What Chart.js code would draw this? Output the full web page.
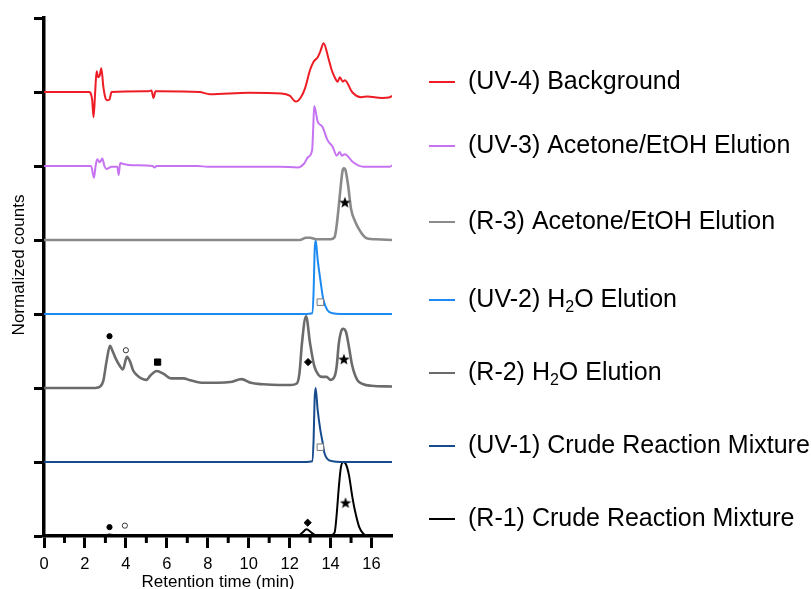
<!DOCTYPE html>
<html>
<head>
<meta charset="utf-8">
<script src="https://cdn.jsdelivr.net/npm/chart.js@4.4.1/dist/chart.umd.min.js"></script>
<style>
  html, body { margin: 0; padding: 0; background: #fff; }
</style>
</head>
<body>
<canvas id="myChart" width="811" height="589"></canvas>
<script>
// series, top to bottom in the stack
var nomesSeries = ['(UV-4) Background', '(UV-3) Acetone/EtOH Elution', '(R-3) Acetone/EtOH Elution',
    '(UV-2) H₂O Elution', '(R-2) H₂O Elution', '(UV-1) Crude Reaction Mixture', '(R-1) Crude Reaction Mixture'];
var coresSeries = ['#ee1c25', '#c673f2', '#8a8a8a', '#1c8af2', '#6b6b6b', '#164b8e', '#000000'];
var deslocamentos = [6, 5, 4, 3, 2, 1, 0];

// retention time (min) / normalized signal for each trace
var tempoUV4 = [0, 2.2, 2.35, 2.42, 2.5, 2.57, 2.65, 2.72, 2.8, 2.9, 3.0, 3.07, 3.2, 3.3, 5.1, 5.25, 5.35, 5.45, 5.6, 7.6,
    8.1, 10.0, 11.6, 12.0, 12.3, 12.55, 12.75, 13.0, 13.17, 13.37, 13.5, 13.66, 13.9, 14.05, 14.2, 14.35, 14.45, 14.6, 14.7, 15.05,
    15.5, 15.8, 16.5, 16.9, 17];
var sinalUV4 = [0, 0, -0.1, -0.34, 0.0, 0.28, 0.2, 0.22, 0.32, 0.07, -0.08, -0.11, -0.1, 0.0, 0.01, 0.02, -0.08, 0.01, 0.01, 0,
    -0.03, -0.01, -0.02, -0.05, -0.13, -0.07, 0.05, 0.3, 0.41, 0.47, 0.55, 0.66, 0.45, 0.3, 0.2, 0.14, 0.2, 0.14, 0.16, 0.0,
    -0.07, -0.06, -0.08, -0.07, -0.05];

var tempoUV3 = [0, 2.3, 2.44, 2.52, 2.6, 2.72, 2.85, 2.95, 3.05, 3.3, 3.58, 3.65, 3.72, 3.85, 4.3, 5.3, 5.4, 5.5, 7.5, 8.0,
    11.5, 12.4, 12.7, 12.9, 13.1, 13.15, 13.2, 13.37, 13.6, 13.85, 14.1, 14.3, 14.45, 14.55, 14.7, 15.1, 15.6, 16.9, 17];
var sinalUV3 = [0, 0, -0.16, 0.0, 0.09, 0.05, 0.1, 0.0, -0.04, -0.01, -0.01, -0.12, 0.04, 0.03, 0.01, 0, -0.02, 0, 0, -0.01,
    -0.01, -0.02, 0.03, 0.12, 0.22, 0.5, 0.81, 0.6, 0.53, 0.35, 0.26, 0.14, 0.19, 0.14, 0.16, 0.05, -0.01, -0.01, 0.01];

var tempoR3 = [0, 12.5, 12.8, 13.0, 13.3, 14.0, 14.2, 14.32, 14.45, 14.58, 14.65, 14.72, 14.85, 15.0, 15.2, 15.4, 15.6, 15.8, 16.2, 17];
var sinalR3 = [0, 0, 0.03, 0.03, 0.01, 0.01, 0.04, 0.25, 0.6, 0.93, 0.97, 0.95, 0.75, 0.42, 0.25, 0.14, 0.06, 0.02, 0.01, 0];

var tempoUV2 = [0, 12.8, 13.1, 13.17, 13.22, 13.27, 13.37, 13.5, 13.65, 13.85, 14.1, 14.5, 17];
var sinalUV2 = [0, 0, 0.01, 0.3, 0.85, 1.0, 0.73, 0.46, 0.19, 0.05, 0.01, 0, 0];

var tempoR2 = [0, 2.5, 2.75, 2.9, 3.05, 3.22, 3.35, 3.5, 3.7, 3.85, 4.05, 4.2, 4.35, 4.55, 4.75, 5.0, 5.2, 5.5, 5.85, 6.2,
    6.8, 7.2, 7.8, 8.5, 9.1, 9.65, 10.1, 10.7, 11.5, 12.05, 12.35, 12.48, 12.6, 12.8, 13.0, 13.2, 13.4, 13.6, 13.8, 14.0,
    14.2, 14.3, 14.4, 14.5, 14.6, 14.75, 14.9, 15.05, 15.3, 15.6, 16.0, 17];
var sinalR2 = [0, 0, 0.02, 0.1, 0.35, 0.57, 0.5, 0.4, 0.3, 0.25, 0.42, 0.36, 0.24, 0.17, 0.13, 0.11, 0.17, 0.23, 0.19, 0.13,
    0.13, 0.1, 0.07, 0.07, 0.08, 0.12, 0.07, 0.05, 0.04, 0.04, 0.06, 0.2, 0.6, 0.97, 0.6, 0.3, 0.18, 0.15, 0.15, 0.11,
    0.16, 0.3, 0.6, 0.75, 0.8, 0.76, 0.55, 0.31, 0.11, 0.05, 0.03, 0.02];

var tempoUV1 = [0, 12.8, 13.1, 13.17, 13.22, 13.27, 13.37, 13.5, 13.6, 13.7, 13.85, 14.1, 14.5, 17];
var sinalUV1 = [0, 0, 0.01, 0.3, 0.85, 1.0, 0.7, 0.43, 0.28, 0.12, 0.04, 0.01, 0, 0];

var tempoR1 = [0, 2.9, 3.2, 3.5, 3.9, 4.3, 5.0, 12.4, 12.6, 12.83, 13.05, 13.3, 14.0, 14.2, 14.3, 14.4, 14.5, 14.62, 14.75, 14.9,
    15.05, 15.2, 15.4, 15.6, 15.8, 17];
var sinalR1 = [0, 0, 0.02, 0.005, 0.015, 0, 0, 0, 0.04, 0.09, 0.05, 0.01, 0.01, 0.05, 0.3, 0.65, 0.92, 1.0, 0.97, 0.82,
    0.55, 0.33, 0.12, 0.03, 0, 0];

var tempos = [tempoUV4, tempoUV3, tempoR3, tempoUV2, tempoR2, tempoUV1, tempoR1];
var sinais = [sinalUV4, sinalUV3, sinalR3, sinalUV2, sinalR2, sinalUV1, sinalR1];

// peak markers (x = time, y = position on the stacked axis)
var circuloCheioX = [3.2, 3.2];
var circuloCheioY = [0.12, 2.7];
var circuloVazioX = [3.95, 4.0];
var circuloVazioY = [0.14, 2.51];
var quadradoCheioX = [5.55];
var quadradoCheioY = [2.35];
var quadradoVazioX = [13.5, 13.5];
var quadradoVazioY = [1.2, 3.16];
var losangoX = [12.88, 12.9];
var losangoY = [0.18, 2.35];
var estrelaX = [14.73, 14.65, 14.7];
var estrelaY = [0.45, 2.39, 4.51];

var ticksX = [0, 2, 4, 6, 8, 10, 12, 14, 16];

function juntarPontos(xs, ys, desloc) {
    var pontos = [];
    for (var i = 0; i < xs.length; i++) {
        pontos.push({ x: xs[i], y: ys[i] + desloc });
    }
    return pontos;
}

// filled five-point star used as a point style
function criarEstrela(tamanho) {
    var c = document.createElement('canvas');
    c.width = tamanho;
    c.height = tamanho;
    var g = c.getContext('2d');
    var r = tamanho / 2, ri = r * 0.42;
    g.beginPath();
    for (var k = 0; k < 10; k++) {
        var ang = -Math.PI / 2 + k * Math.PI / 5;
        var rr = k % 2 === 0 ? r : ri;
        g.lineTo(r + rr * Math.cos(ang), r + 0.5 + rr * Math.sin(ang));
    }
    g.closePath();
    g.fillStyle = '#000';
    g.fill();
    return c;
}

var datasets = [];
for (var i = 0; i < nomesSeries.length; i++) {
    var cinza = nomesSeries[i].indexOf('(R-') === 0 && i !== 6;
    datasets.push({
        label: nomesSeries[i],
        data: juntarPontos(tempos[i], sinais[i], deslocamentos[i]),
        borderColor: coresSeries[i],
        borderWidth: cinza ? 2.6 : 2,
        pointRadius: 0,
        fill: false,
        cubicInterpolationMode: 'monotone',
        order: 2
    });
}

function marcadores(xs, ys, estilo, raio, cheio, corBorda) {
    return {
        type: 'scatter',
        data: juntarPontos(xs, ys, 0),
        pointStyle: estilo,
        pointRadius: raio,
        pointBackgroundColor: cheio ? '#000' : '#fff',
        pointBorderColor: corBorda,
        pointBorderWidth: 1,
        showLine: false,
        order: 0
    };
}

datasets.push(marcadores(circuloCheioX, circuloCheioY, 'circle', 2.6, true, '#000'));
datasets.push(marcadores(circuloVazioX, circuloVazioY, 'circle', 2.6, false, '#333'));
datasets.push(marcadores(quadradoCheioX, quadradoCheioY, 'rect', 4.4, true, '#000'));
datasets.push(marcadores(quadradoVazioX, quadradoVazioY, 'rect', 4.6, false, '#777'));
datasets.push(marcadores(losangoX, losangoY, 'rectRot', 3.6, true, '#000'));
datasets.push(marcadores(estrelaX, estrelaY, criarEstrela(12), 6, true, '#000'));

var fonte = '"Liberation Sans", Arial, sans-serif';

// legend, axis titles and the short odd-minute ticks drawn by hand
var linhasLegenda = [82, 146, 222, 300, 373, 446, 519];
var legendaLateral = {
    id: 'legendaLateral',
    afterDraw: function (chart) {
        var ctx = chart.ctx;
        var escalaX = chart.scales.x;
        var base = chart.chartArea.bottom;
        ctx.save();

        ctx.strokeStyle = '#000';
        ctx.lineWidth = 3;
        for (var v = 1; v < 17; v += 2) {
            var px = escalaX.getPixelForValue(v);
            ctx.beginPath();
            ctx.moveTo(px, base);
            ctx.lineTo(px, base + 7);
            ctx.stroke();
        }

        ctx.textBaseline = 'middle';
        for (var i = 0; i < nomesSeries.length; i++) {
            var y = linhasLegenda[i];
            ctx.strokeStyle = coresSeries[i];
            ctx.lineWidth = 2;
            ctx.beginPath();
            ctx.moveTo(429, y);
            ctx.lineTo(455, y);
            ctx.stroke();

            ctx.fillStyle = '#000';
            var partes = nomesSeries[i].split('₂');
            var x = 468;
            for (var p = 0; p < partes.length; p++) {
                ctx.font = '25px ' + fonte;
                ctx.fillText(partes[p], x, y);
                x += ctx.measureText(partes[p]).width;
                if (p < partes.length - 1) {
                    ctx.font = '16px ' + fonte;
                    ctx.fillText('2', x, y + 8);
                    x += ctx.measureText('2').width;
                }
            }
        }

        ctx.textAlign = 'center';
        ctx.font = '17px ' + fonte;
        ctx.fillText('Retention time (min)', (chart.chartArea.left + chart.chartArea.right) / 2, 582);

        ctx.translate(19, 265);
        ctx.rotate(-Math.PI / 2);
        ctx.fillText('Normalized counts', 0, 0);
        ctx.restore();
    }
};

var grafico = new Chart(document.getElementById('myChart'), {
    type: 'line',
    data: { datasets: datasets },
    plugins: [legendaLateral],
    options: {
        responsive: false,
        animation: false,
        layout: { padding: { top: 18, right: 419, left: 0, bottom: 0 } },
        plugins: {
            legend: { display: false },
            tooltip: { enabled: false }
        },
        scales: {
            x: {
                type: 'linear',
                min: 0,
                max: 17,
                afterFit: function (scale) { scale.height = 53; },
                afterBuildTicks: function (scale) {
                    var t = [];
                    for (var v = 0; v <= 17; v++) t.push({ value: v });
                    scale.ticks = t;
                },
                ticks: {
                    autoSkip: false,
                    maxRotation: 0,
                    padding: 7,
                    color: '#000',
                    font: { family: fonte, size: 16.5 },
                    callback: function (valor) {
                        return ticksX.indexOf(valor) !== -1 ? String(valor) : '';
                    }
                },
                grid: {
                    drawOnChartArea: false,
                    drawTicks: true,
                    tickLength: 12,
                    tickWidth: 3,
                    tickColor: function (c) {
                        return c.tick && c.tick.value % 2 === 1 ? 'rgba(0,0,0,0)' : '#000';
                    }
                },
                border: { color: '#000', width: 3.5 },
                title: { display: false }
            },
            y: {
                type: 'linear',
                min: 0,
                max: 7,
                afterFit: function (scale) { scale.width = 44; },
                ticks: { stepSize: 1, display: false },
                grid: { drawOnChartArea: false, drawTicks: true, tickLength: 10, tickWidth: 3, tickColor: '#000' },
                border: { color: '#000', width: 3.5 },
                title: { display: false }
            }
        }
    }
});
</script>
</body>
</html>
